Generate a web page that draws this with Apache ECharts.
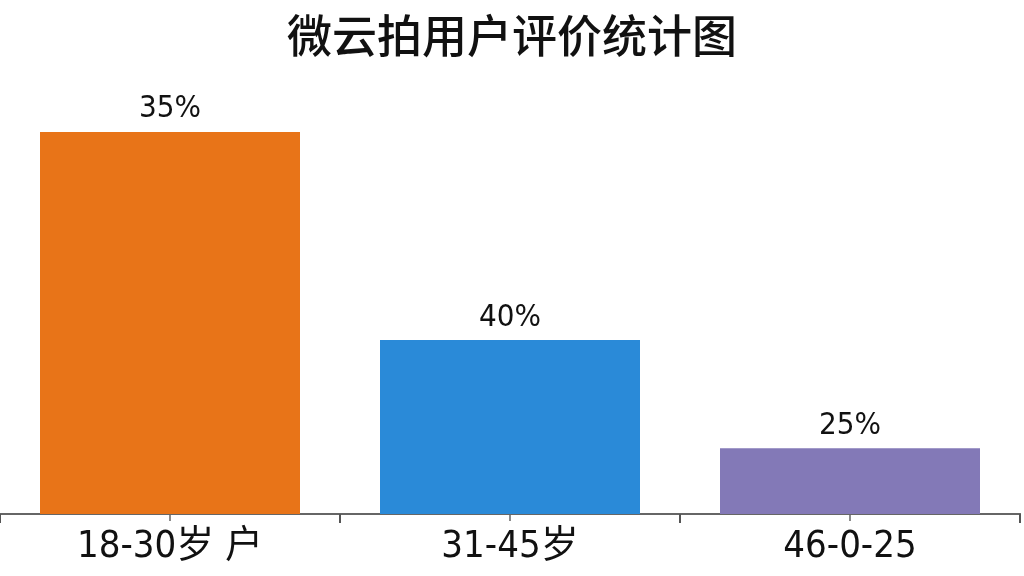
<!DOCTYPE html>
<html><head><meta charset="utf-8">
<script src="https://cdn.jsdelivr.net/npm/echarts@6/dist/echarts.min.js"></script>
<style>html,body{margin:0;padding:0;background:#fff}#c{width:1024px;height:576px}</style>
</head><body><div id="c"></div>
<script>
const categories = ["18-30岁 户", "31-45岁", "46-0-25"];
const barHeights = [92.3, 42.0, 15.9];
const barLabels = ["35%", "40%", "25%"];
const barColors = ["#E87418", "#2A8AD8", "#8379B7"];

const chart = echarts.init(document.getElementById('c'), null, {renderer: 'canvas'});
const font = '"DejaVu Sans Condensed", "Noto Sans CJK SC", sans-serif';
chart.setOption({
  backgroundColor: '#fff',
  animation: false,
  title: {
    text: '微云拍用户评价统计图', left: 'center', top: 8,
    textStyle: {fontFamily: '"Noto Sans CJK SC", sans-serif', fontSize: 45, fontWeight: 500, color: '#111'}
  },
  grid: {left: 0, right: 4, top: 100, bottom: 62},
  xAxis: [{
    type: 'category', data: categories,
    axisLine: {lineStyle: {color: '#666', width: 2}},
    axisTick: {show: true, alignWithLabel: true, length: 7, lineStyle: {color: '#666', width: 1.5}},
    axisLabel: {fontFamily: font, fontSize: 38, color: '#111', margin: 14, interval: 0}
  }, {
    type: 'category', data: categories, position: 'bottom', offset: 0,
    axisLine: {show: true, lineStyle: {color: '#666', width: 2}},
    axisTick: {show: true, alignWithLabel: false, length: 9, lineStyle: {color: '#555', width: 2}},
    axisLabel: {show: false}
  }],
  yAxis: {type: 'value', min: 0, max: 100, show: false, splitLine: {show: false}},
  series: [{
    type: 'bar', barWidth: 260, xAxisIndex: 0,
    data: barHeights.map((v, i) => ({value: v, itemStyle: {color: barColors[i]}})),
    label: {
      show: true, position: 'top', distance: 7,
      formatter: p => barLabels[p.dataIndex],
      fontFamily: font, fontSize: 31, color: '#111'
    }
  }]
});
</script></body></html>
